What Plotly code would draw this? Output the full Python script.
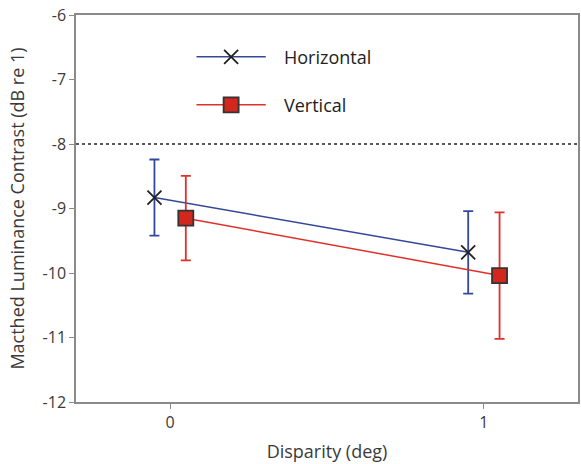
import plotly.graph_objects as go

# ---- data ----
disparity = [0, 1]
horiz_mean = [-8.83, -9.68]
horiz_err = [0.59, 0.64]
vert_mean = [-9.15, -10.04]
vert_err = [0.655, 0.98]
reference_level = -8
x_ticks = [0, 1]
y_ticks = [-12, -11, -10, -9, -8, -7, -6]
y_tick_text = ["-12", "-11", "-10", "-9", "-8", "-7", "-6"]

OFFSET = 0.05
BLUE = "#34489a"
RED = "#e0302a"
FILL = "#d3261c"
FONT = "Open Sans, DejaVu Sans, sans-serif"
TXT = "#3a3a3a"
AX = "#8a8a8a"

fig = go.Figure()

fig.add_trace(go.Scatter(
    x=[d - OFFSET for d in disparity], y=horiz_mean, mode="lines+markers",
    line=dict(color=BLUE, width=1.5),
    marker=dict(symbol="x-thin", size=14, line=dict(color="#222222", width=1.8)),
    error_y=dict(type="data", array=horiz_err, color=BLUE, thickness=1.8, width=5),
    showlegend=False, name="Horizontal"))

fig.add_trace(go.Scatter(
    x=[d + OFFSET for d in disparity], y=vert_mean, mode="lines+markers",
    line=dict(color=RED, width=1.5),
    marker=dict(symbol="square", size=15, color=FILL, line=dict(color="#333333", width=1.8)),
    error_y=dict(type="data", array=vert_err, color=RED, thickness=1.8, width=5),
    showlegend=False, name="Vertical"))

# ---- custom legend on an overlay axis (0..1 units of the plot area) ----
leg_x0, leg_x1 = 0.240, 0.378
leg_ys = [0.892, 0.768]
fig.add_trace(go.Scatter(x=[leg_x0, leg_x1], y=[leg_ys[0]] * 2, mode="lines",
                         line=dict(color=BLUE, width=1.5), xaxis="x2", yaxis="y2",
                         showlegend=False, hoverinfo="skip"))
fig.add_trace(go.Scatter(x=[(leg_x0 + leg_x1) / 2], y=[leg_ys[0]], mode="markers",
                         marker=dict(symbol="x-thin", size=14, line=dict(color="#222222", width=1.8)),
                         xaxis="x2", yaxis="y2", showlegend=False, hoverinfo="skip"))
fig.add_trace(go.Scatter(x=[leg_x0, leg_x1], y=[leg_ys[1]] * 2, mode="lines",
                         line=dict(color=RED, width=1.5), xaxis="x2", yaxis="y2",
                         showlegend=False, hoverinfo="skip"))
fig.add_trace(go.Scatter(x=[(leg_x0 + leg_x1) / 2], y=[leg_ys[1]], mode="markers",
                         marker=dict(symbol="square", size=15, color=FILL, line=dict(color="#333333", width=1.8)),
                         xaxis="x2", yaxis="y2", showlegend=False, hoverinfo="skip"))
for name, yy in zip(["Horizontal", "Vertical"], leg_ys):
    fig.add_annotation(x=0.41, y=yy, xref="x2", yref="y2", text=name, showarrow=False,
                       xanchor="left", yanchor="middle", font=dict(size=18, color="#222222", family=FONT))

fig.add_shape(type="line", xref="paper", yref="y", x0=0, x1=1, y0=reference_level, y1=reference_level,
              line=dict(color="#222222", width=1.5, dash="dot"))

fig.update_layout(
    width=581, height=464,
    margin=dict(l=76, r=1, t=15, b=62),
    paper_bgcolor="white", plot_bgcolor="white",
    font=dict(family=FONT, color=TXT, size=16),
    xaxis=dict(range=[-0.3, 1.3], tickvals=x_ticks, ticktext=[str(t) for t in x_ticks],
               showgrid=False, zeroline=False, showline=True, mirror=True,
               linecolor=AX, linewidth=1.5, ticks="outside", ticklen=5, tickcolor=AX,
               tickfont=dict(size=16, color=TXT),
               title=dict(text="Disparity (deg)", font=dict(size=18, color=TXT), standoff=13)),
    yaxis=dict(range=[-12, -6], tickvals=y_ticks, ticktext=y_tick_text, showgrid=False, zeroline=False,
               showline=True, mirror=True, linecolor=AX, linewidth=1.5,
               ticks="outside", ticklen=5, tickcolor=AX,
               tickfont=dict(size=16, color=TXT),
               title=dict(text="Macthed Luminance Contrast (dB re 1)", font=dict(size=18, color=TXT), standoff=13)),
    xaxis2=dict(range=[0, 1], overlaying="x", visible=False, fixedrange=True),
    yaxis2=dict(range=[0, 1], overlaying="y", visible=False, fixedrange=True),
)

fig.write_html("out.html", config={"displayModeBar": False},
               post_script="document.body.style.margin='0';")
